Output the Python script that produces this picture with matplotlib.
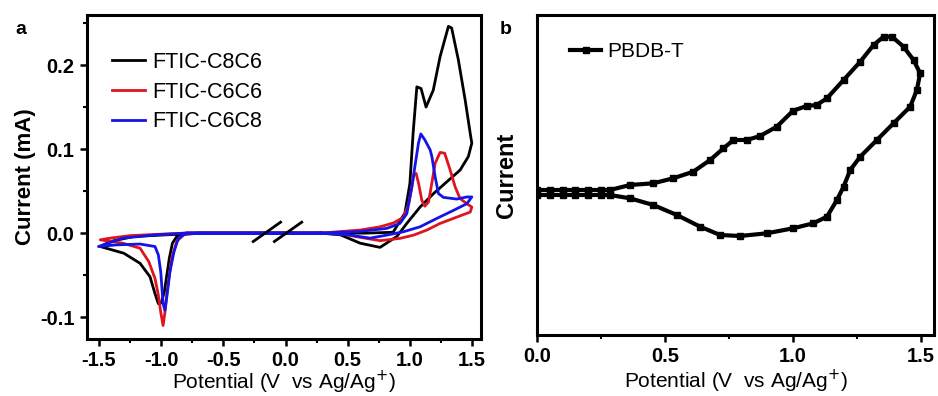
import matplotlib
matplotlib.use("Agg")
import matplotlib.pyplot as plt
import numpy as np

plt.rcParams['font.family'] = ['Liberation Sans', 'DejaVu Sans']

# ---------------- Panel a data (potential V, current mA) ----------------
labels_a = ["FTIC-C8C6", "FTIC-C6C6", "FTIC-C6C8"]
colors_a = ["black", "#e0141e", "#1414e6"]

# FTIC-C8C6 (black)
c8c6_x = [0.28, 0.65, 0.865, 0.96, 1.0, 1.026, 1.056, 1.09, 1.13, 1.188, 1.243, 1.31, 1.336,
          1.39, 1.445, 1.485, 1.498,
          1.47, 1.404, 1.297, 1.19, 1.082, 0.975, 0.895, 0.76, 0.60, 0.44, 0.28,
          -0.69, -0.80, -0.87, -0.91, -0.935, -0.955, -0.975, -1.0, -1.023, -1.05, -1.09,
          -1.17, -1.30, -1.49,
          -1.41, -1.22, -0.95, -0.69, 0.28]
c8c6_y = [0.0, 0.0, 0.001, 0.024, 0.059, 0.119, 0.174, 0.172, 0.150, 0.170, 0.210, 0.246, 0.244,
          0.206, 0.158, 0.119, 0.107,
          0.091, 0.075, 0.061, 0.047, 0.031, 0.0115, -0.004, -0.017, -0.012, -0.002, 0.0,
          0.0, 0.0, -0.003, -0.012, -0.030, -0.050, -0.070, -0.083, -0.084, -0.072, -0.052,
          -0.036, -0.024, -0.016,
          -0.010, -0.004, -0.002, 0.0, 0.0]

# FTIC-C6C6 (red)
c6c6_x = [0.28, 0.60, 0.76, 0.867, 0.95, 0.99, 1.016, 1.03, 1.05, 1.07, 1.096, 1.12, 1.15, 1.176,
          1.203, 1.243, 1.28, 1.324, 1.364, 1.404, 1.458, 1.498,
          1.485, 1.377, 1.243, 1.136, 1.03, 0.92, 0.76, 0.60, 0.45, 0.28,
          -0.70, -0.82, -0.875, -0.916, -0.95, -0.97, -0.985, -1.004, -1.023, -1.05, -1.10,
          -1.17, -1.31, -1.49,
          -1.41, -1.25, -1.036, -0.80, 0.28]
c6c6_y = [0.0, 0.0036, 0.0075, 0.012, 0.019, 0.035, 0.055, 0.069, 0.071, 0.059, 0.039, 0.032, 0.037,
          0.059, 0.083, 0.096, 0.095, 0.075, 0.055, 0.041, 0.035, 0.031,
          0.025, 0.019, 0.0115, 0.0036, -0.0024, -0.0063, -0.009, -0.005, -0.001, 0.0,
          0.0, -0.002, -0.010, -0.030, -0.066, -0.094, -0.110, -0.094, -0.074, -0.054, -0.034,
          -0.018, -0.012, -0.008,
          -0.006, -0.003, -0.0015, 0.0, 0.0]

# FTIC-C6C8 (blue)
c6c8_x = [0.28, 0.60, 0.814, 0.92, 0.975, 1.016, 1.04, 1.069, 1.088, 1.12, 1.163, 1.177, 1.203,
          1.23, 1.27, 1.377, 1.458, 1.498,
          1.458, 1.35, 1.217, 1.082, 0.948, 0.814, 0.68, 0.50, 0.28,
          -0.70, -0.795, -0.862, -0.897, -0.93, -0.95, -0.97, -0.985, -1.004, -1.023, -1.05,
          -1.17, -1.36, -1.505,
          -1.31, -1.036, -0.80, 0.28]
c6c8_y = [0.0, 0.002, 0.0056, 0.0115, 0.023, 0.055, 0.079, 0.107, 0.118, 0.111, 0.099, 0.091, 0.067,
          0.047, 0.0425, 0.0405, 0.043, 0.043,
          0.035, 0.027, 0.0175, 0.0075, 0.0016, -0.0024, -0.006, -0.002, 0.0,
          0.0, 0.0, -0.006, -0.022, -0.046, -0.070, -0.092, -0.084, -0.046, -0.026, -0.016,
          -0.013, -0.014, -0.016,
          -0.006, -0.002, 0.0, 0.0]

series_a = [(c8c6_x, c8c6_y), (c6c6_x, c6c6_y), (c6c8_x, c6c8_y)]

# ---------------- Panel b data (potential V, current a.u.) ----------------
pbdbt_x = [0.0, 0.05, 0.10, 0.15, 0.20, 0.25, 0.285, 0.363, 0.454, 0.532, 0.61, 0.676, 0.728, 0.767,
           0.819, 0.871, 0.936, 1.0, 1.053, 1.092, 1.132, 1.197, 1.262, 1.314, 1.353, 1.386, 1.431,
           1.47, 1.496,
           1.483, 1.457, 1.392, 1.327, 1.262, 1.223, 1.197, 1.171, 1.132, 1.079, 1.0, 0.897,
           0.793, 0.715, 0.637, 0.546, 0.454, 0.363, 0.285, 0.25, 0.20, 0.15, 0.10, 0.05, 0.0]
pbdbt_y = [0.02, 0.02, 0.02, 0.02, 0.02, 0.02, 0.02, 0.07, 0.087, 0.137, 0.203, 0.32, 0.437, 0.52,
           0.52, 0.56, 0.653, 0.813, 0.86, 0.87, 0.937, 1.12, 1.303, 1.47, 1.553, 1.553, 1.453,
           1.32, 1.187,
           1.02, 0.853, 0.687, 0.52, 0.353, 0.22, 0.053, -0.08, -0.247, -0.313, -0.363, -0.413,
           -0.44, -0.43, -0.347, -0.23, -0.13, -0.063, -0.03, -0.03, -0.03, -0.03, -0.03, -0.03, -0.03]

xticks_a = [-1.5, -1.0, -0.5, 0.0, 0.5, 1.0, 1.5]
yticks_a = [-0.1, 0.0, 0.1, 0.2]
xticks_b = [0.0, 0.5, 1.0, 1.5]

fig = plt.figure(figsize=(9.38, 3.96), dpi=100)
axa = fig.add_axes([87/938, 1-339/396, (481-87)/938, (339-15)/396])
axb = fig.add_axes([537/938, 1-335/396, (934-537)/938, (335-15)/396])

for (x, y), c, lab in zip(series_a, colors_a, labels_a):
    axa.plot(x, y, color=c, lw=2.0, label=lab, solid_joinstyle='round')

# axis break marks
for bx in (-0.15, 0.02):
    axa.plot([bx - 0.11, bx + 0.11], [-0.010, 0.013], color='black', lw=2.0, zorder=5)

axa.set_xlim(-1.597, 1.572)
axa.set_ylim(-0.126, 0.2595)
axa.set_xticks(xticks_a)
axa.set_xticklabels([f"{v:.1f}" for v in xticks_a])
axa.set_yticks(yticks_a)
axa.set_yticklabels([f"{v:.1f}" for v in yticks_a])
axa.set_xticks(np.arange(-1.5, 1.51, 0.25), minor=True)
axa.set_yticks(np.arange(-0.1, 0.251, 0.05), minor=True)
axa.set_xlabel("Potential (V  vs Ag/Ag$^{+}$)", fontsize=15, labelpad=-1)
axa.set_ylabel("Current (mA)", fontsize=16, fontweight='bold', labelpad=3)
axa.legend(loc='upper left', bbox_to_anchor=(0.063, 0.886), frameon=False, fontsize=15.5,
           handlelength=1.55, handletextpad=0.35, labelspacing=0.4, borderaxespad=0,
           borderpad=0)

axb.plot(pbdbt_x, pbdbt_y, color='black', lw=3.0, marker='s', ms=4.5, label='PBDB-T')
axb.set_xlim(0, 1.55)
axb.set_ylim(-1.43, 1.77)
axb.set_xticks(xticks_b)
axb.set_xticklabels([f"{v:.1f}" for v in xticks_b])
axb.set_xticks(np.arange(0, 1.51, 0.25), minor=True)
axb.set_yticks([])
axb.set_xlabel("Potential (V  vs Ag/Ag$^{+}$)", fontsize=15, labelpad=1)
axb.set_ylabel("Current", fontsize=17, fontweight='bold', labelpad=14)
axb.legend(loc='upper left', bbox_to_anchor=(0.083, 0.916), frameon=False, fontsize=15,
           handlelength=1.5, handletextpad=0.3, borderaxespad=0, borderpad=0)

for ax in (axa, axb):
    for s in ax.spines.values():
        s.set_linewidth(2.2)
    ax.tick_params(which='major', direction='out', length=5, width=1.8, labelsize=14.5, pad=4)
    ax.tick_params(which='minor', direction='out', length=3, width=1.5)
    ax.tick_params(top=False, right=False, which='both')
    for t in ax.get_xticklabels() + ax.get_yticklabels():
        t.set_fontweight('bold')

fig.text(15/938, 1-30/396, "a", fontsize=14, fontweight='bold', va='center')
fig.text(500/938, 1-30/396, "b", fontsize=14, fontweight='bold', va='center')

fig.savefig("out.png", dpi=100)
